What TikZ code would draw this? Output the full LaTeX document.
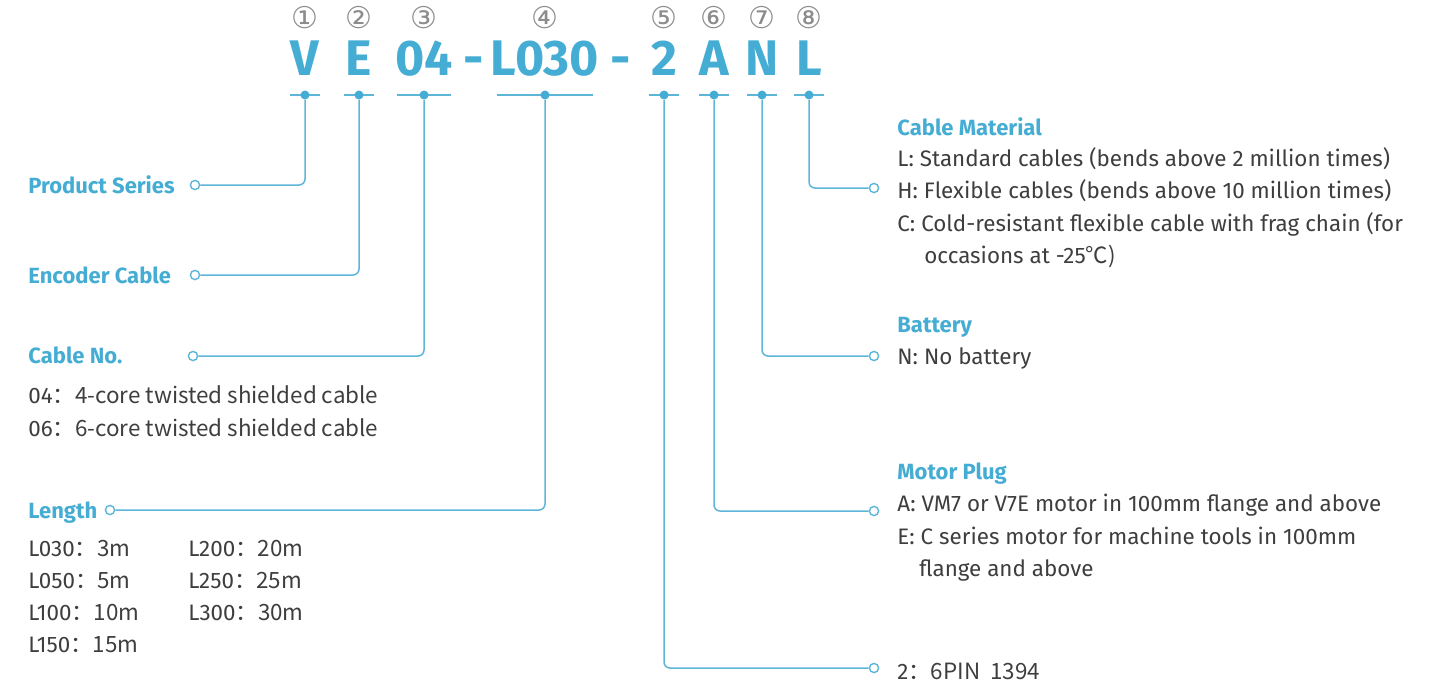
\documentclass[tikz,border=0pt]{standalone}
\usepackage{fontspec}
\setmainfont{Fira Sans}
\newfontfamily\symfont{DejaVu Sans}
\newfontfamily\cjk{Noto Sans CJK SC}
\usetikzlibrary{positioning}
\definecolor{codeblue}{HTML}{45ADD3}
\definecolor{linkblue}{HTML}{5DB6D8}
\definecolor{bodygray}{HTML}{3E3E3E}
\definecolor{numgray}{HTML}{8C8C8C}
\newcommand{\fc}{\cjk{：}}
\tikzset{
  codechar/.style={font=\fontsize{25}{25}\selectfont\bfseries, text=codeblue, inner sep=0pt, anchor=base},
  circnum/.style={font=\symfont\fontsize{15}{15}\selectfont, text=numgray, inner sep=0pt},
  title/.style={font=\fontsize{11}{12}\selectfont\bfseries, text=codeblue, inner sep=0pt, anchor=base west},
  desc/.style={font=\fontsize{11.2}{12}\selectfont, text=bodygray, inner sep=0pt, anchor=base west},
  bar/.style={draw=linkblue, line width=0.75pt},
  link/.style={draw=linkblue, line width=0.75pt, rounded corners=3pt},
  dotmark/.style={circle, fill=codeblue, inner sep=0pt, minimum size=4.5pt},
  endring/.style={circle, draw=linkblue, fill=white, line width=0.7pt, inner sep=0pt, minimum size=4.6pt}
}
\begin{document}
\begin{tikzpicture}[x=0.5pt,y=-0.5pt]
  \useasboundingbox (0,0) rectangle (1438,686);
  % code letters, numbers and bars
  \foreach \n/\x/\w/\t/\c in {1/305/15/V/①, 2/359/15/E/②, 3/424/27/04/③, 4/545/48/L030/④,
      5/664/15/2/⑤, 6/714/15/A/⑥, 7/762/15/N/⑦, 8/809/15/L/⑧} {
    \node[circnum] (num-\n) at (\x,18) {\c};
    \node[codechar] (code-\n) at (\x,75) {\t};
    \draw[bar] (\x-\w,95) -- (\x+\w,95);
    \node[dotmark] (dot-\n) at (\x,95) {};
  }
  \node[codechar] (dash-a) at (474,75) {-};
  \node[codechar] (dash-b) at (621,75) {-};

  % left column
  \node[title] (series) at (28,193) {Product Series};
  \node[title] (encoder) at (28,283) {Encoder Cable};
  \node[title] (cableno) at (28,363) {Cable No.};
  \node[desc] (c04) at (28,403) {04\fc 4-core twisted shielded cable};
  \node[desc] (c06) at (28,436) {06\fc 6-core twisted shielded cable};
  \node[title] (length) at (28,518) {Length};
  \foreach \y/\a/\b in {556/L030\fc 3m/L200\fc 20m, 588/L050\fc 5m/L250\fc 25m,
      620/L100\fc 10m/L300\fc 30m, 652/L150\fc 15m/} {
    \node[desc] at (28,\y) {\a};
    \node[desc] at (188,\y) {\b};
  }

  % right column
  \node[title] (material) at (897,135) {Cable Material};
  \node[desc] (mat-l) at (897,166) {L: Standard cables (bends above 2 million times)};
  \node[desc] (mat-h) at (897,198) {H: Flexible cables (bends above 10 million times)};
  \node[desc] (mat-c) at (897,231) {C: Cold-resistant flexible cable with frag chain (for};
  \node[desc] (mat-c2) at (924,263) {occasions at -25\cjk{℃})};
  \node[title] (battery) at (897,332) {Battery};
  \node[desc] (bat-n) at (897,364) {N: No battery};
  \node[title] (plug) at (897,479) {Motor Plug};
  \node[desc] (plug-a) at (897,511) {A: VM7 or V7E motor in 100mm flange and above};
  \node[desc] (plug-e) at (897,544) {E: C series motor for machine tools in 100mm};
  \node[desc] (plug-e2) at (919,576) {flange and above};
  \node[desc] (pin) at (897,679) {2\fc 6PIN\ \ 1394};

  % ring ends
  \node[endring] (ring-1) at (195,185) {};
  \node[endring] (ring-2) at (195,275) {};
  \node[endring] (ring-3) at (193,356) {};
  \node[endring] (ring-4) at (110,510) {};
  \node[endring] (ring-5) at (874,668) {};
  \node[endring] (ring-6) at (874,511) {};
  \node[endring] (ring-7) at (874,356) {};
  \node[endring] (ring-8) at (874,188) {};

  % connectors
  \foreach \n in {1,...,8}
    \draw[link] (dot-\n) |- (ring-\n);
\end{tikzpicture}
\end{document}
